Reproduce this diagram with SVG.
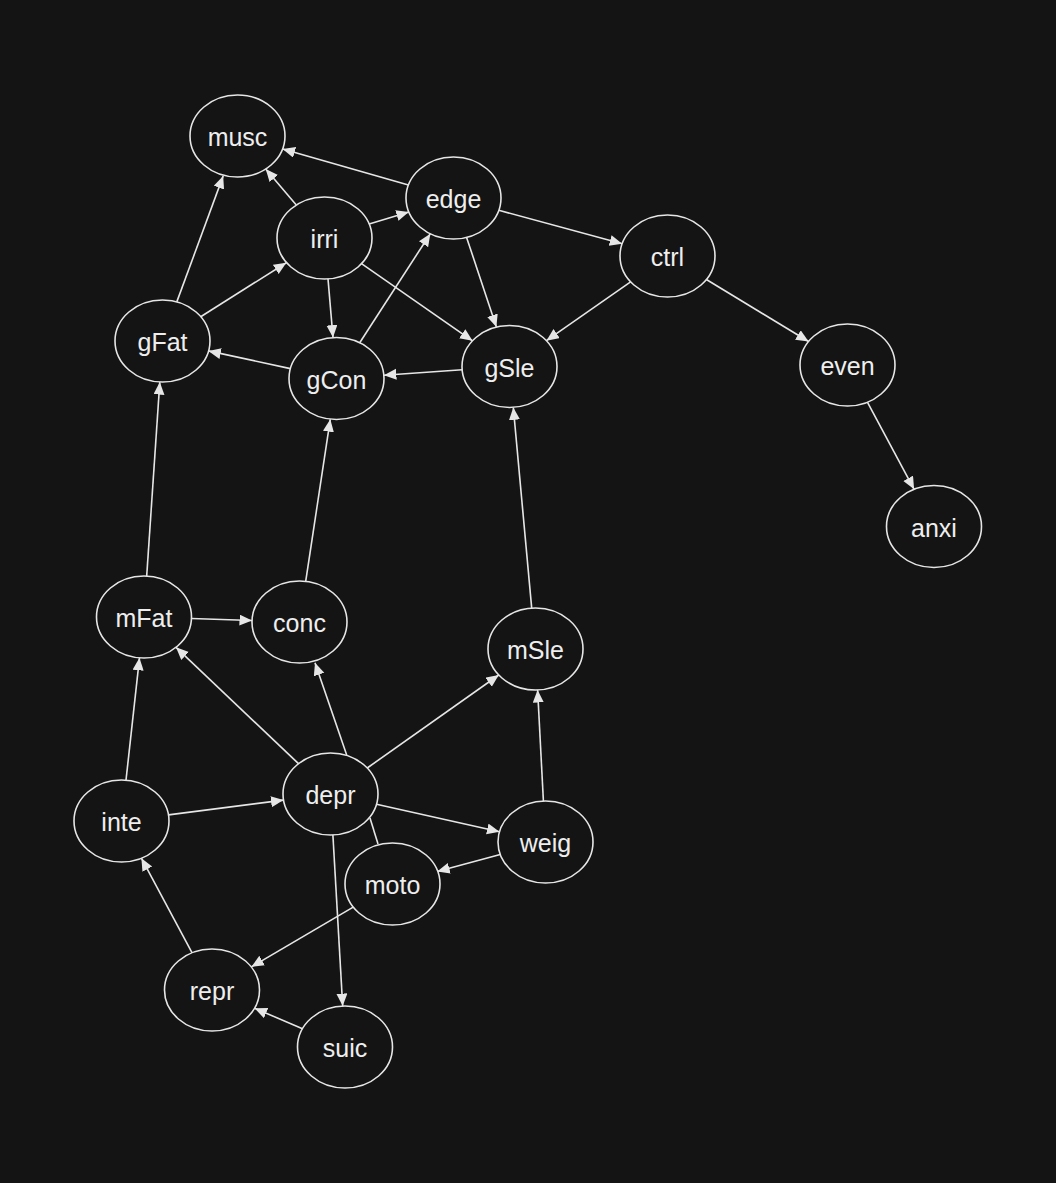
<svg xmlns="http://www.w3.org/2000/svg" width="1056" height="1183" viewBox="0 0 1056 1183">
<defs>
<marker id="ah" markerUnits="userSpaceOnUse" markerWidth="14" markerHeight="12" refX="12.5" refY="5.5" orient="auto">
<path d="M0,0 L12.5,5.5 L0,11 z" fill="#e6e6e6"/>
</marker>
<style>
.n ellipse{fill:#141414;stroke:#e6e6e6;stroke-width:1.6}
.n text{font-family:"Liberation Sans",Arial,sans-serif;font-size:25px;fill:#eeeeee;text-anchor:middle;dominant-baseline:central}
#edges line{stroke:#e6e6e6;stroke-width:1.6;marker-end:url(#ah)}
#edges line.u{marker-end:none}
</style>
</defs>
<rect width="1056" height="1183" fill="#141414"/>
<g id="edges">
<line x1="408.4" y1="185.1" x2="282.6" y2="148.9"/>
<line x1="296.3" y1="205.0" x2="265.7" y2="169.0"/>
<line x1="176.8" y1="301.9" x2="223.2" y2="175.9"/>
<line x1="369.2" y1="224.1" x2="408.8" y2="211.9"/>
<line x1="359.7" y1="342.7" x2="430.3" y2="233.7"/>
<line x1="498.8" y1="210.3" x2="622.2" y2="243.7"/>
<line x1="466.6" y1="237.4" x2="496.4" y2="327.1"/>
<line x1="361.5" y1="263.7" x2="472.5" y2="340.8"/>
<line x1="328.0" y1="278.9" x2="333.0" y2="337.6"/>
<line x1="200.7" y1="316.7" x2="286.3" y2="262.7"/>
<line x1="290.4" y1="368.6" x2="208.4" y2="350.9"/>
<line x1="462.2" y1="369.8" x2="383.9" y2="375.2"/>
<line x1="630.6" y1="281.8" x2="546.4" y2="340.7"/>
<line x1="706.4" y1="279.5" x2="808.6" y2="341.5"/>
<line x1="867.4" y1="402.2" x2="914.1" y2="489.3"/>
<line x1="146.7" y1="576.1" x2="159.8" y2="382.1"/>
<line x1="305.7" y1="581.4" x2="330.3" y2="419.2"/>
<line x1="531.7" y1="608.1" x2="513.3" y2="407.4"/>
<line x1="191.5" y1="618.5" x2="252.0" y2="620.5"/>
<line x1="298.5" y1="763.7" x2="176.0" y2="647.3"/>
<line x1="346.7" y1="755.0" x2="315.0" y2="662.7"/>
<line x1="367.2" y1="768.0" x2="498.8" y2="675.0"/>
<line x1="126.0" y1="780.2" x2="139.5" y2="657.8"/>
<line x1="168.5" y1="814.9" x2="283.5" y2="800.1"/>
<line x1="376.5" y1="804.3" x2="499.5" y2="831.7"/>
<line class="u" x1="370" y1="818" x2="378" y2="844"/>
<line x1="543.4" y1="801.0" x2="537.6" y2="690.0"/>
<line x1="500.2" y1="854.4" x2="437.2" y2="871.6"/>
<line x1="332.9" y1="835.0" x2="342.7" y2="1006.1"/>
<line x1="353.2" y1="907.1" x2="251.3" y2="966.9"/>
<line x1="192.1" y1="952.8" x2="141.4" y2="858.2"/>
<line x1="302.5" y1="1028.8" x2="254.6" y2="1008.2"/>
</g>
<g id="musc" class="n"><ellipse cx="237.5" cy="136" rx="47.5" ry="41"/><text x="237.5" y="137">musc</text></g>
<g id="edge" class="n"><ellipse cx="453.5" cy="198" rx="47.5" ry="41"/><text x="453.5" y="199">edge</text></g>
<g id="irri" class="n"><ellipse cx="324.5" cy="238" rx="47.5" ry="41"/><text x="324.5" y="239">irri</text></g>
<g id="ctrl" class="n"><ellipse cx="667.5" cy="256" rx="47.5" ry="41"/><text x="667.5" y="257">ctrl</text></g>
<g id="gFat" class="n"><ellipse cx="162.5" cy="341" rx="47.5" ry="41"/><text x="162.5" y="342">gFat</text></g>
<g id="gCon" class="n"><ellipse cx="336.5" cy="378.5" rx="47.5" ry="41"/><text x="336.5" y="379.5">gCon</text></g>
<g id="gSle" class="n"><ellipse cx="509.5" cy="366.5" rx="47.5" ry="41"/><text x="509.5" y="367.5">gSle</text></g>
<g id="even" class="n"><ellipse cx="847.5" cy="365" rx="47.5" ry="41"/><text x="847.5" y="366">even</text></g>
<g id="anxi" class="n"><ellipse cx="934" cy="526.5" rx="47.5" ry="41"/><text x="934" y="527.5">anxi</text></g>
<g id="mFat" class="n"><ellipse cx="144" cy="617" rx="47.5" ry="41"/><text x="144" y="618">mFat</text></g>
<g id="conc" class="n"><ellipse cx="299.5" cy="622" rx="47.5" ry="41"/><text x="299.5" y="623">conc</text></g>
<g id="mSle" class="n"><ellipse cx="535.5" cy="649" rx="47.5" ry="41"/><text x="535.5" y="650">mSle</text></g>
<g id="inte" class="n"><ellipse cx="121.5" cy="821" rx="47.5" ry="41"/><text x="121.5" y="822">inte</text></g>
<g id="depr" class="n"><ellipse cx="330.5" cy="794" rx="47.5" ry="41"/><text x="330.5" y="795">depr</text></g>
<g id="weig" class="n"><ellipse cx="545.5" cy="842" rx="47.5" ry="41"/><text x="545.5" y="843">weig</text></g>
<g id="moto" class="n"><ellipse cx="392.5" cy="884" rx="47.5" ry="41"/><text x="392.5" y="885">moto</text></g>
<g id="repr" class="n"><ellipse cx="212" cy="990" rx="47.5" ry="41"/><text x="212" y="991">repr</text></g>
<g id="suic" class="n"><ellipse cx="345" cy="1047" rx="47.5" ry="41"/><text x="345" y="1048">suic</text></g>
</svg>
